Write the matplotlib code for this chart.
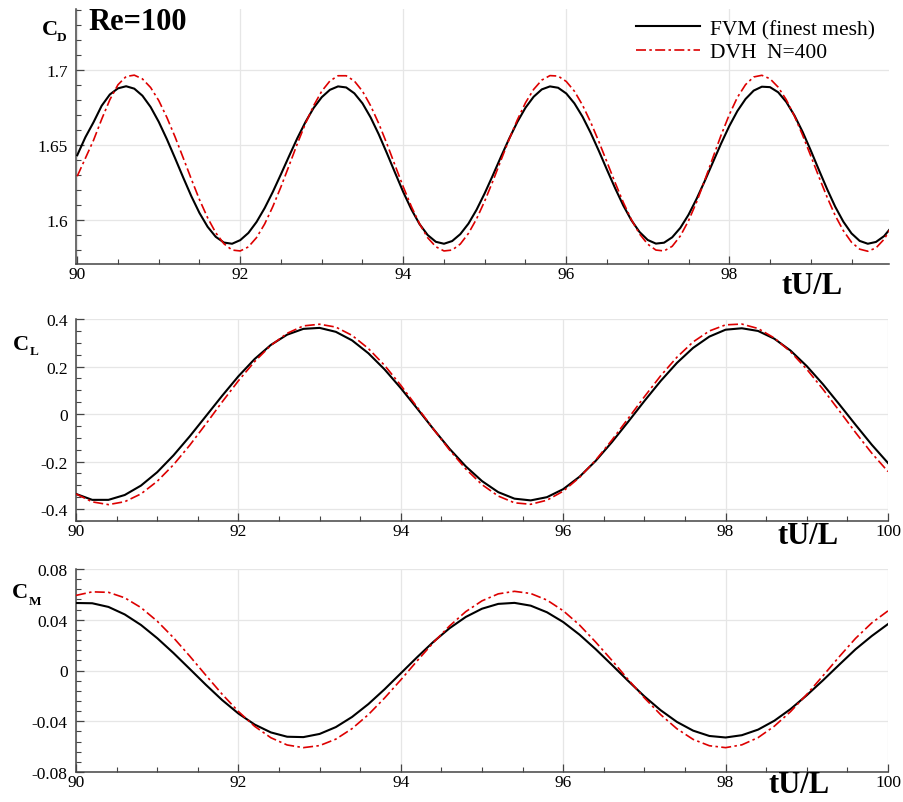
import numpy as np
import matplotlib
matplotlib.use('Agg')
import matplotlib.pyplot as plt
from matplotlib.ticker import MultipleLocator, FuncFormatter

plt.rcParams['font.family'] = ['Liberation Serif', 'DejaVu Serif']

# time samples tU/L
t_cd = np.round(np.arange(90.0, 100.01, 0.1), 1)
t = np.round(np.arange(90.0, 100.01, 0.2), 1)

# drag coefficient (sampled every 0.1)
cd_fvm = [1.643, 1.655, 1.665, 1.676, 1.6835, 1.6876, 1.689, 1.6874, 1.6827, 1.6752,
          1.6653, 1.6537, 1.6411, 1.6282, 1.6157, 1.6045, 1.5953, 1.5886, 1.5848, 1.5840,
          1.5864, 1.5912, 1.5985, 1.6078, 1.6186, 1.6304, 1.6425, 1.6543, 1.6651, 1.6745,
          1.6817, 1.6866, 1.6889, 1.6882, 1.6843, 1.6776, 1.6682, 1.6569, 1.6443, 1.6313,
          1.6185, 1.6069, 1.5971, 1.5898, 1.5853, 1.5840, 1.5858, 1.5904, 1.5974, 1.6067,
          1.6177, 1.6297, 1.6421, 1.6541, 1.6652, 1.6747, 1.6820, 1.6869, 1.6889, 1.6880,
          1.6842, 1.6776, 1.6687, 1.6579, 1.6459, 1.6333, 1.6210, 1.6095, 1.5996, 1.5918,
          1.5865, 1.5841, 1.5847, 1.5883, 1.5946, 1.6033, 1.6140, 1.6259, 1.6384, 1.6508,
          1.6624, 1.6725, 1.6805, 1.6861, 1.6887, 1.6884, 1.6850, 1.6785, 1.6695, 1.6586,
          1.6462, 1.6332, 1.6205, 1.6087, 1.5987, 1.5909, 1.5859, 1.5840, 1.5852, 1.5891,
          1.5957]
cd_dvh = [1.629, 1.641, 1.653, 1.667, 1.680, 1.690, 1.6955, 1.6964, 1.6939, 1.6882,
          1.6795, 1.6682, 1.6553, 1.6413, 1.6271, 1.6134, 1.6013, 1.5913, 1.5840, 1.5798,
          1.5792, 1.5819, 1.5881, 1.5972, 1.6088, 1.6220, 1.6362, 1.6506, 1.6641, 1.6760,
          1.6857, 1.6925, 1.6960, 1.6960, 1.6925, 1.6857, 1.6760, 1.6641, 1.6506, 1.6362,
          1.6220, 1.6088, 1.5973, 1.5880, 1.5820, 1.5792, 1.5798, 1.5838, 1.5909, 1.6006,
          1.6125, 1.6258, 1.6398, 1.6537, 1.6666, 1.6780, 1.6869, 1.6931, 1.6961, 1.6958,
          1.6922, 1.6857, 1.6764, 1.6650, 1.6521, 1.6384, 1.6247, 1.6116, 1.6000, 1.5905,
          1.5837, 1.5798, 1.5792, 1.5823, 1.5892, 1.5993, 1.6119, 1.6264, 1.6415, 1.6564,
          1.6700, 1.6816, 1.6901, 1.6952, 1.6963, 1.6940, 1.6884, 1.6800, 1.6691, 1.6564,
          1.6426, 1.6286, 1.6151, 1.6028, 1.5927, 1.5850, 1.5804, 1.5790, 1.5812, 1.5870,
          1.5960]

# lift coefficient (sampled every 0.2)
cl_fvm = [-0.336, -0.361, -0.361, -0.3406, -0.301, -0.2446, -0.174, -0.094, -0.0087, 0.077,
          0.159, 0.2316, 0.291, 0.334, 0.3585, 0.3626, 0.346, 0.310, 0.256, 0.188,
          0.109, 0.024, -0.0625, -0.146, -0.220, -0.282, -0.3286, -0.356, -0.3633, -0.3497,
          -0.316, -0.264, -0.197, -0.118, -0.0325, 0.055, 0.139, 0.215, 0.2785, 0.326,
          0.355, 0.361, 0.3497, 0.317, 0.267, 0.2016, 0.125, 0.041, -0.045, -0.129,
          -0.206]
cl_dvh = [-0.336, -0.3695, -0.381, -0.3688, -0.336, -0.283, -0.2136, -0.1315, -0.0416, 0.051,
          0.140, 0.221, 0.289, 0.3397, 0.371, 0.378, 0.366, 0.331, 0.276, 0.205,
          0.121, 0.030, -0.0625, -0.151, -0.231, -0.297, -0.345, -0.3735, -0.3797, -0.3625,
          -0.3245, -0.267, -0.194, -0.1095, -0.0186, 0.073, 0.161, 0.239, 0.3036, 0.3496,
          0.3754, 0.3787, 0.360, 0.320, 0.262, 0.1885, 0.104, 0.0137, -0.0775, -0.1645,
          -0.242]

# moment coefficient (sampled every 0.2)
cm_fvm = [0.0532, 0.0530, 0.0501, 0.0442, 0.0359, 0.0255, 0.0138, 0.0013, -0.0113, -0.0233,
          -0.0339, -0.0426, -0.0488, -0.0522, -0.0525, -0.0500, -0.0446, -0.0366, -0.0265, -0.0148,
          -0.0022, 0.0104, 0.0225, 0.0333, 0.0422, 0.0487, 0.0525, 0.0533, 0.0511, 0.0459,
          0.0382, 0.0283, 0.0168, 0.0044, -0.0082, -0.0204, -0.0313, -0.0405, -0.0474, -0.0516,
          -0.0528, -0.0510, -0.0466, -0.0396, -0.0304, -0.0195, -0.0077, 0.0046, 0.0167, 0.0272,
          0.0366]
cm_dvh = [0.0592, 0.0620, 0.0616, 0.0573, 0.0496, 0.0389, 0.0259, 0.0114, -0.0038, -0.0187,
          -0.0323, -0.0440, -0.0530, -0.0587, -0.0608, -0.0592, -0.0541, -0.0458, -0.0348, -0.0217,
          -0.0074, 0.0075, 0.0219, 0.0351, 0.0464, 0.0549, 0.0604, 0.0624, 0.0607, 0.0555,
          0.0471, 0.0359, 0.0224, 0.0080, -0.0071, -0.0216, -0.0348, -0.0459, -0.0543, -0.0593,
          -0.0608, -0.0586, -0.0529, -0.0439, -0.0324, -0.0188, -0.0041, 0.0109, 0.0253, 0.0375,
          0.0470]

W, H = 904, 803
fig = plt.figure(figsize=(W / 100, H / 100), dpi=100)

def px_axes(x0, y0, x1, y1):
    return fig.add_axes([x0 / W, 1 - y1 / H, (x1 - x0) / W, (y1 - y0) / H])

def ptext(x, y, s, **kw):
    fig.text(x / W, 1 - y / H, s, ha='center', va='center', **kw)

red = '#dd0000'
dashdot = (0, (6, 2, 1.5, 2))
fmt = FuncFormatter(lambda v, p: '%g' % round(v, 4))

panels = [
    # box, time, series, ylim, yticks, y minor step, xlim, xticks
    ((76, 10, 889, 265), t_cd, (cd_fvm, cd_dvh), (1.5705, 1.7405), [1.6, 1.65, 1.7], 0.01,
     (89.985, 99.96), [90, 92, 94, 96, 98]),
    ((76, 320, 888, 522), t, (cl_fvm, cl_dvh), (-0.45, 0.4), [-0.4, -0.2, 0, 0.2, 0.4], 0.05,
     (90, 100), [90, 92, 94, 96, 98, 100]),
    ((76, 570, 888, 773), t, (cm_fvm, cm_dvh), (-0.08, 0.08), [-0.08, -0.04, 0, 0.04, 0.08], 0.008,
     (90, 100), [90, 92, 94, 96, 98, 100]),
]

axes = []
for box, tt, (fvm, dvh), ylim, yt, ymin, xlim, xt in panels:
    ax = px_axes(*box)
    ax.plot(tt, fvm, color='black', lw=1.5, label='FVM (finest mesh)', zorder=3)
    ax.plot(tt, dvh, color=red, lw=1.2, linestyle=dashdot, label='DVH  N=400', zorder=4)
    ax.set_xlim(*xlim)
    ax.set_ylim(*ylim)
    ax.set_xticks(xt)
    ax.set_yticks(yt)
    ax.xaxis.set_minor_locator(MultipleLocator(0.5))
    ax.yaxis.set_minor_locator(MultipleLocator(ymin))
    ax.xaxis.set_major_formatter(fmt)
    ax.yaxis.set_major_formatter(fmt)
    ax.grid(True, which='major', color='#e6e6e6', lw=0.9, zorder=0)
    ax.set_axisbelow(True)
    for s in ['top', 'right']:
        ax.spines[s].set_visible(False)
    for s in ['left', 'bottom']:
        ax.spines[s].set_color('#444444')
        ax.spines[s].set_linewidth(1.1)
    ax.tick_params(which='both', direction='in', colors='#444444', labelcolor='black',
                   labelsize=12.5)
    ax.tick_params(which='major', length=6, width=0.9)
    ax.tick_params(which='minor', length=3.5, width=0.8)
    ax.tick_params(axis='x', pad=1.5)
    ax.tick_params(axis='y', pad=6)
    axes.append(ax)

# coefficient labels: big C with small bold subscript
for (cx, cy), (sx, sy), sub in [((49.5, 30), (62, 38), 'D'),
                                ((21, 345), (34, 352), 'L'),
                                ((19.5, 593), (35, 602), 'M')]:
    ptext(cx, cy, 'C', fontsize=16, fontweight='bold')
    ptext(sx, sy, sub, fontsize=9.5, fontweight='bold')

for x, y in [(812, 287), (808, 536), (799, 786)]:
    ptext(x, y, 'tU/L', fontsize=22, fontweight='bold')

fig.text(88 / W, 1 - 22 / H, 'Re=100', fontsize=22, fontweight='bold',
         ha='left', va='center')

axes[0].legend(loc='upper right', bbox_to_anchor=(0.983, 0.961), frameon=False,
               fontsize=15.5, handlelength=3.0, handletextpad=0.45,
               labelspacing=0.15, borderpad=0, borderaxespad=0)

fig.savefig('out.png', dpi=100)
